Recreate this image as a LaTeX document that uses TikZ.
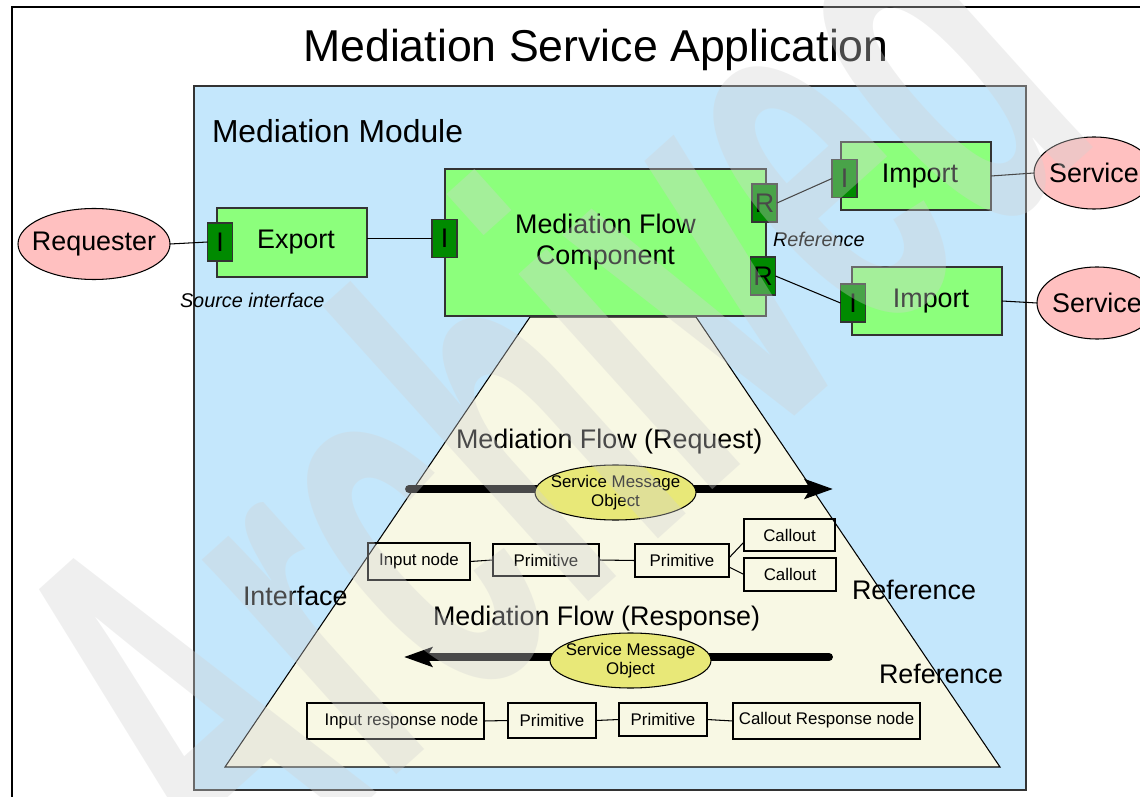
\documentclass[tikz,border=0pt]{standalone}
\usepackage{fontspec}
\setmainfont{Liberation Sans}
\usetikzlibrary{arrows.meta,shapes.geometric}
\definecolor{modblue}{RGB}{196,231,252}
\definecolor{compgreen}{RGB}{140,255,124}
\definecolor{portgreen}{RGB}{0,138,0}
\definecolor{extpink}{RGB}{255,192,192}
\definecolor{flowbg}{RGB}{248,248,228}
\definecolor{smoyellow}{RGB}{232,232,120}
\definecolor{wmgray}{RGB}{210,210,210}
\newlength{\pxl}
\setlength{\pxl}{0.02cm}

\begin{document}
\begin{tikzpicture}[x=0.02cm, y=-0.02cm, every node/.style={inner sep=0pt, outer sep=0pt},
  big/.style={font=\fontsize{15.3}{17.6}\selectfont},
  small/.style={font=\fontsize{9.6}{10.8}\selectfont},
  note/.style={font=\fontsize{11.3}{13}\selectfont\itshape},
  comp/.style={draw=black!80, line width=0.6pt, fill=compgreen, big},
  port/.style={draw=black!80, line width=0.6pt, fill=portgreen, big, minimum width=25\pxl, minimum height=38\pxl},
  ext/.style={ellipse, draw, line width=0.6pt, fill=extpink, big, inner xsep=-10\pxl, minimum height=72\pxl},
  prim/.style={draw, line width=0.6pt, small},
  smo/.style={ellipse, draw, line width=0.6pt, fill=smoyellow, small, align=center, inner xsep=-14\pxl, minimum width=161\pxl, minimum height=55\pxl},
  flow/.style={line width=4.5pt, line cap=round, -{Stealth[length=16pt, width=11pt, inset=3pt]}},
  link/.style={line width=0.6pt}]
	\useasboundingbox (0,0) rectangle (1140,797);
	\draw[line width=0.8pt] (12,797) -- (12,7) -- (1140,7);
	\node[draw=black!80, line width=0.6pt, fill=modblue, minimum width=832\pxl, minimum height=704\pxl] (module) at (610,438) {};
	\filldraw[fill=flowbg, line width=0.6pt] (530,317) -- (696,317) -- (1000,767) -- (225,767) -- cycle;

	\node[anchor=base, font=\fontsize{25.4}{30}\selectfont] (title) at (596,62) {Mediation Service Application};
	\node[anchor=base west, font=\fontsize{18.1}{21}\selectfont] (modlabel) at (212,143) {Mediation Module};

	\node[ext, minimum width=152\pxl, minimum height=71\pxl] (req) at (94,244) {Requester};
	\node[comp, minimum width=150\pxl, minimum height=69\pxl] (export) at (292,242.5) {\hspace{8\pxl}Export};
	\node[port] (exI) at (220,242) {I};
	\node[comp, minimum width=321\pxl, minimum height=147\pxl, align=center] (mfc) at (605.5,242.5) {Mediation Flow\\Component};
	\node[port] (mfcI) at (444.5,238.5) {I};
	\node[port] (mfcRa) at (764.5,203) {R};
	\node[port] (mfcRb) at (763,276) {R};
	\node[comp, minimum width=150\pxl, minimum height=68\pxl] (impa) at (916,176) {\hspace{8\pxl}Import};
	\node[port] (impIa) at (844.5,178.5) {I};
	\node[comp, minimum width=150\pxl, minimum height=68\pxl] (impb) at (927,301) {\hspace{8\pxl}Import};
	\node[port] (impIb) at (853,303) {I};
	\node[ext, minimum width=120\pxl] (svca) at (1094,173) {Service};
	\node[ext, minimum width=120\pxl] (svcb) at (1097,303) {Service};

	\draw[link] (req.east) -- (exI.west);
	\draw[link] (export.east |- mfcI.west) -- (mfcI.west);
	\draw[link] (mfcRa.east) -- (impIa.west);
	\draw[link] (mfcRb.east) -- (impIb.west);
	\draw[link] (impa.east) -- (svca.west);
	\draw[link] (impb.east) -- (svcb.west);

	\node[note, anchor=base west] (srcif) at (180,308) {Source interface};
	\node[note, anchor=base west] (refnote) at (773,247) {Reference};

	\node[big, anchor=base west] (reqtitle) at (456,448) {Mediation Flow (Request)};
	\node[big, anchor=base west] (resptitle) at (433,625) {Mediation Flow (Response)};
	\node[big, anchor=base west] (iflabel) at (243,605) {Interface};
	\node[big, anchor=base west] (refa) at (852,599) {Reference};
	\node[big, anchor=base west] (refb) at (879,683) {Reference};

	\coordinate (reqfrom) at (409,489);
	\coordinate (reqto) at (833,489);
	\coordinate (respfrom) at (829,657);
	\coordinate (respto) at (404,657);
	\draw[flow] (reqfrom) -- (reqto);
	\draw[flow] (respfrom) -- (respto);
	\node[smo] (smoa) at (615.5,492.5) {Service Message\\Object};
	\node[smo] (smob) at (630.5,660.5) {Service Message\\Object};

	\node[prim, minimum width=102\pxl, minimum height=37\pxl] (innode) at (419,561.5) {Input node};
	\node[prim, minimum width=106\pxl, minimum height=32\pxl] (prima) at (546,560) {Primitive};
	\node[prim, minimum width=94\pxl, minimum height=33\pxl] (primb) at (682,560.5) {Primitive};
	\node[prim, minimum width=91\pxl, minimum height=32\pxl] (calla) at (789.5,535) {Callout};
	\node[prim, minimum width=92\pxl, minimum height=33\pxl] (callb) at (790,574.5) {Callout};
	\draw[link] (innode.east) -- (prima.west);
	\draw[link] (prima.east) -- (primb.west);
	\draw[link] ([yshift=1.5pt]primb.east) -- ([yshift=-4pt]calla.west);
	\draw[link] ([yshift=-3.7pt]primb.east) -- (callb.west);

	\node[prim, minimum width=177\pxl, minimum height=36\pxl] (inresp) at (395.5,721) {\hspace{12\pxl}Input response node};
	\node[prim, minimum width=88\pxl, minimum height=35\pxl] (rprima) at (552,720.5) {Primitive};
	\node[prim, minimum width=88\pxl, minimum height=33\pxl] (rprimb) at (663,719.5) {Primitive};
	\node[prim, minimum width=187\pxl, minimum height=36\pxl] (coresp) at (826.5,721) {\raisebox{6\pxl}{Callout Response node}};
	\draw[link] (inresp.east) -- (rprima.west);
	\draw[link] (rprima.east) -- (rprimb.west);
	\draw[link] (rprimb.east) -- (coresp.west);

	\node[rotate=42, anchor=base west, text=wmgray, opacity=0.35] (stamp) at (235,920) {\scalebox{0.5}[1]{\fontsize{312}{312}\selectfont\bfseries Archived}};
\end{tikzpicture}
\end{document}
